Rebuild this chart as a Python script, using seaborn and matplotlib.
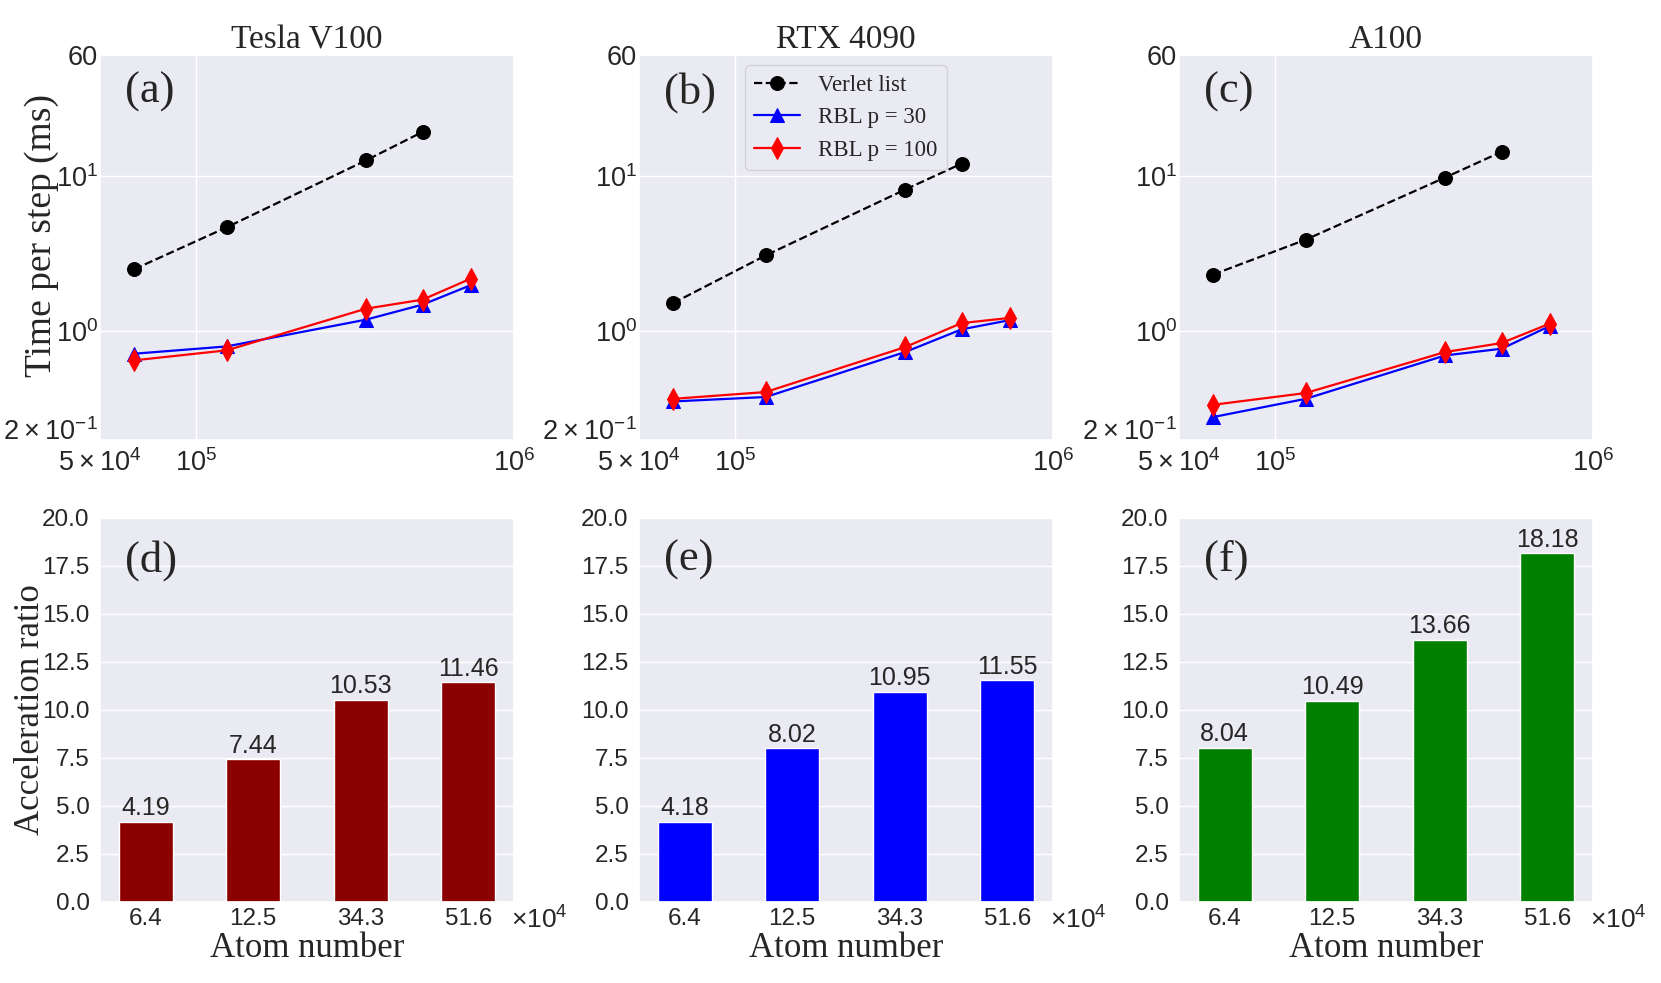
import numpy as np
import pandas as pd
import matplotlib
matplotlib.use("Agg")
import matplotlib.pyplot as plt
import matplotlib.ticker as mticker
import seaborn as sns

# ---------------- data ----------------
gpus = ["Tesla V100", "RTX 4090", "A100"]
panel_top = ["(a)", "(b)", "(c)"]
panel_bot = ["(d)", "(e)", "(f)"]

x_verlet = [6.4e4, 12.5e4, 34.3e4, 51.6e4]
x_rbl = [6.4e4, 12.5e4, 34.3e4, 51.6e4, 73.0e4]

verlet_v100 = [2.51, 4.67, 12.6, 19.2]
rbl30_v100 = [0.718, 0.80, 1.19, 1.486, 1.98]
rbl100_v100 = [0.651, 0.755, 1.40, 1.60, 2.18]

verlet_4090 = [1.52, 3.08, 8.17, 12.0]
rbl30_4090 = [0.354, 0.378, 0.736, 1.03, 1.18]
rbl100_4090 = [0.368, 0.407, 0.792, 1.13, 1.22]

verlet_a100 = [2.32, 3.89, 9.77, 14.3]
rbl30_a100 = [0.281, 0.368, 0.70, 0.773, 1.08]
rbl100_a100 = [0.337, 0.401, 0.736, 0.841, 1.12]

atom_labels = ["6.4", "12.5", "34.3", "51.6"]
ratio_v100 = [4.19, 7.44, 10.53, 11.46]
ratio_4090 = [4.18, 8.02, 10.95, 11.55]
ratio_a100 = [8.04, 10.49, 13.66, 18.18]

series_names = ["Verlet list", "RBL p = 30", "RBL p = 100"]
x_minor_labels = {5e4: r"$\mathdefault{5\times10^{4}}$"}
y_minor_labels = {0.2: r"$\mathdefault{2\times10^{-1}}$", 60: "60"}

verlets = [verlet_v100, verlet_4090, verlet_a100]
rbl30s = [rbl30_v100, rbl30_4090, rbl30_a100]
rbl100s = [rbl100_v100, rbl100_4090, rbl100_a100]
ratios = [ratio_v100, ratio_4090, ratio_a100]
bar_colors = ["#8B0000", "#0000FF", "#008000"]

# ---------------- style ----------------
sns.set_theme(style="darkgrid")
plt.rcParams["font.family"] = ["Liberation Sans", "DejaVu Sans"]
SERIF = ["Liberation Serif", "DejaVu Serif"]
TXT = "#262626"

fig = plt.figure(figsize=(16.61, 9.83), dpi=100)
W, H = 1661.0, 983.0
col_left = [100, 639, 1179]
ax_w = 414

def fig_rect(left, top, bottom):
    return [left / W, 1 - bottom / H, ax_w / W, (bottom - top) / H]

def make_fmt(mapping):
    def f(v, pos):
        for k, lab in mapping.items():
            if np.isclose(v, k, rtol=1e-6):
                return lab
        return ""
    return mticker.FuncFormatter(f)

top_axes = []
# ---------------- top row: log-log timings ----------------
for i in range(3):
    ax = fig.add_axes(fig_rect(col_left[i], 55, 440))
    top_axes.append(ax)
    sns.lineplot(x=x_verlet, y=verlets[i], ax=ax, color="black", linestyle="--",
                 marker="o", markersize=10, markeredgecolor="black", linewidth=1.6,
                 label=series_names[0], legend=False)
    sns.lineplot(x=x_rbl, y=rbl30s[i], ax=ax, color="blue", linestyle="-",
                 marker="^", markersize=9.5, markeredgecolor="blue", linewidth=1.6,
                 label=series_names[1], legend=False)
    sns.lineplot(x=x_rbl, y=rbl100s[i], ax=ax, color="red", linestyle="-",
                 marker="d", markersize=11, markeredgecolor="red", linewidth=1.6,
                 label=series_names[2], legend=False)
    ax.set_xscale("log")
    ax.set_yscale("log")
    ax.set_xlim(5e4, 1e6)
    ax.set_ylim(0.2, 60)
    ax.xaxis.set_minor_formatter(make_fmt(x_minor_labels))
    ax.yaxis.set_minor_formatter(make_fmt(y_minor_labels))
    ax.tick_params(which="major", direction="in", length=11.5, width=2.2,
                   color=TXT, labelsize=19.5, labelcolor=TXT)
    ax.tick_params(which="minor", direction="in", length=5, width=1.0,
                   color=TXT, labelsize=19.5, labelcolor=TXT)
    ax.tick_params(axis="y", which="both", pad=1.5)
    ax.tick_params(axis="x", which="both", pad=6.5)
    ax.set_xlabel("")
    ax.set_ylabel("")
    ax.set_title(gpus[i], fontsize=24, family=SERIF, color=TXT, pad=5)
    ax.text(0.06, 0.957, panel_top[i], transform=ax.transAxes, ha="left", va="top",
            fontsize=32, family=SERIF, color=TXT)
    if i == 0:
        ax.set_ylabel("Time per step (ms)", fontsize=27, family=SERIF, color=TXT)
        ax.yaxis.set_label_coords(-0.1, 0.53)
    if i == 1:
        leg = ax.legend(loc="upper center", bbox_to_anchor=(0.5, 0.985),
                        prop={"family": SERIF, "size": 16.5}, frameon=True,
                        borderaxespad=0.2, handlelength=2.0)
        for t in leg.get_texts():
            t.set_color(TXT)

# ---------------- bottom row: acceleration ratio bars ----------------
for i in range(3):
    ax = fig.add_axes(fig_rect(col_left[i], 518, 902))
    df = pd.DataFrame({"atoms": atom_labels, "ratio": ratios[i]})
    sns.barplot(data=df, x="atoms", y="ratio", ax=ax, color=bar_colors[i],
                saturation=1, width=0.5, edgecolor="white", linewidth=1)
    ax.set_xlim(-0.425, 3.425)
    ax.set_ylim(0, 20)
    ax.set_yticks(np.arange(0, 20.01, 2.5))
    ax.tick_params(labelsize=17.5, labelcolor=TXT)
    ax.tick_params(axis="x", pad=-1.5)
    ax.tick_params(axis="y", pad=1.5)
    ax.bar_label(ax.containers[0], fmt="%.2f", fontsize=18, color=TXT, padding=1)
    ax.set_xlabel("Atom number", fontsize=25, family=SERIF, color=TXT, labelpad=1)
    ax.set_ylabel("")
    ax.text(0.992, -0.047, r"$\mathdefault{\times10^{4}}$", transform=ax.transAxes,
            ha="left", va="center", fontsize=19, color=TXT)
    ax.text(0.06, 0.943, panel_bot[i], transform=ax.transAxes, ha="left", va="top",
            fontsize=32, family=SERIF, color=TXT)
    if i == 0:
        ax.set_ylabel("Acceleration ratio", fontsize=25, family=SERIF, color=TXT)
        ax.yaxis.set_label_coords(-0.129, 0.5)

# the 2x10^-1 label sits on its baseline at the tick, as in the reference
fig.canvas.draw()
for ax in top_axes:
    for tk in ax.yaxis.get_minor_ticks():
        if np.isclose(tk.get_loc(), 0.2, rtol=1e-6):
            tk.label1.set_verticalalignment("baseline")

fig.savefig("out.png", dpi=100)
